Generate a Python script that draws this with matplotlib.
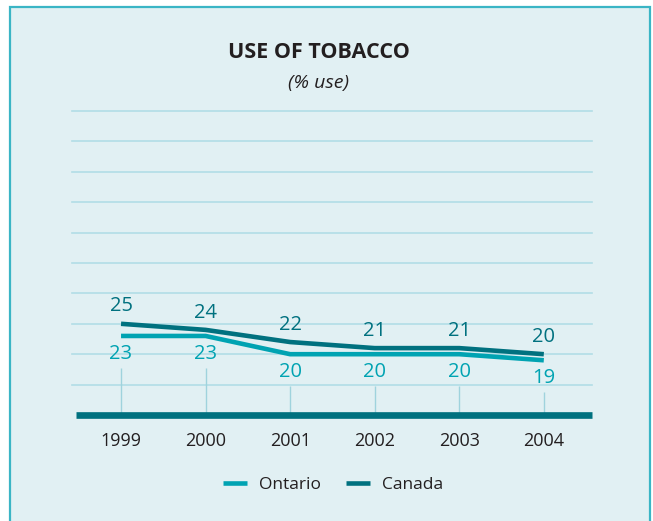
import matplotlib.pyplot as plt
from matplotlib.patches import Rectangle

years = [1999, 2000, 2001, 2002, 2003, 2004]
ontario = [23, 23, 20, 20, 20, 19]
canada = [25, 24, 22, 21, 21, 20]
grid_levels = [15, 20, 25, 30, 35, 40, 45, 50, 55, 60]

ONTARIO_C = '#00a3b2'
CANADA_C = '#00717f'
TEXT_C = '#231f20'
BG = '#e1f0f3'

plt.rcParams['font.family'] = ['Open Sans', 'DejaVu Sans']

W, H = 653, 521
fig = plt.figure(figsize=(W / 100, H / 100), dpi=100)
fig.patch.set_facecolor('white')

# panel background with border
fig.patches.append(Rectangle((10 / W, -0.05), 640 / W, 1.05 - 7 / H,
                             transform=fig.transFigure, facecolor=BG,
                             edgecolor='#3ab5c5', linewidth=1.6, zorder=-10))

ax = fig.add_axes([72 / W, 1 - 415 / H, 520 / W, 304 / H])
ax.set_zorder(1)
ax.set_facecolor('none')
ax.set_xlim(1998.42, 2004.57)
ax.set_ylim(10, 60)
for s in ax.spines.values():
    s.set_visible(False)
ax.set_yticks([])
ax.set_xticks(years)
ax.set_xticklabels([str(y) for y in years], fontsize=13, color=TEXT_C)
ax.tick_params(axis='x', length=0, pad=12)

for g in grid_levels:
    ax.axhline(g, color='#b2dde6', linewidth=1.2, zorder=1, clip_on=False)

# drop lines below the Ontario labels
for x, v in zip(years, ontario):
    ax.vlines(x, 10, v - 5.2, color='#9fd3dd', linewidth=1.0, zorder=1)

ax.axhline(10, xmin=0.008, xmax=1, color=CANADA_C, linewidth=4.8,
           zorder=3, clip_on=False, solid_capstyle='butt')

ax.plot(years, ontario, color=ONTARIO_C, linewidth=3.3, label='Ontario',
        zorder=4, solid_capstyle='butt')
ax.plot(years, canada, color=CANADA_C, linewidth=3.3, label='Canada',
        zorder=5, solid_capstyle='butt')

for x, v in zip(years, canada):
    ax.annotate(str(v), (x, v), xytext=(0, 12.5), textcoords='offset points',
                ha='center', va='center', fontsize=14.5, color=CANADA_C)
for x, v in zip(years, ontario):
    ax.annotate(str(v), (x, v), xytext=(0, -13), textcoords='offset points',
                ha='center', va='center', fontsize=14.5, color=ONTARIO_C)

fig.text(319 / W, 1 - 52 / H, 'USE OF TOBACCO', ha='center', va='center',
         fontsize=15.5, fontweight='bold', color=TEXT_C)
fig.text(319 / W, 1 - 83 / H, '(% use)', ha='center', va='center',
         fontsize=14, style='italic', color=TEXT_C)

fig.legend(loc='center', bbox_to_anchor=(333 / W, 1 - 485 / H), ncol=2,
           frameon=False, fontsize=12.5, handlelength=1.4, handletextpad=0.7,
           columnspacing=1.4, labelcolor=TEXT_C)

fig.savefig('out.png', dpi=100, facecolor=fig.get_facecolor())
